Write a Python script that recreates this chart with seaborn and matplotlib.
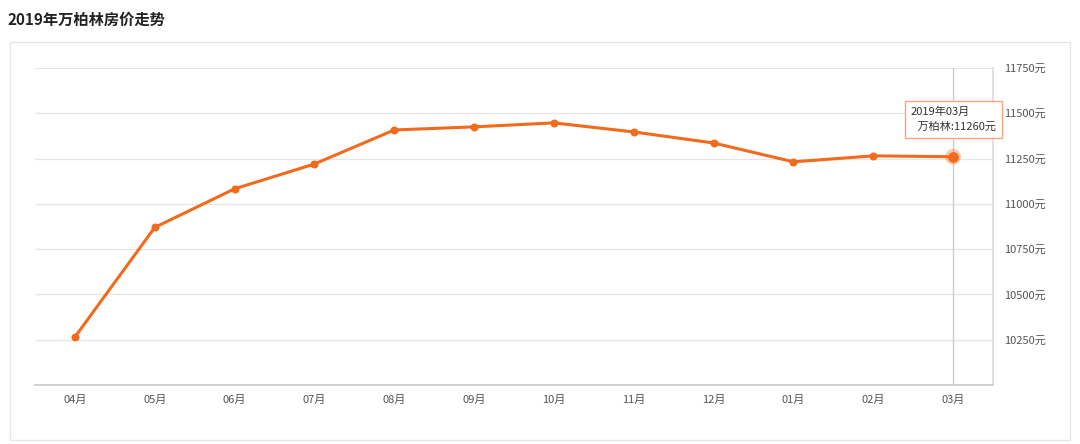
import matplotlib
matplotlib.use("Agg")
import matplotlib.pyplot as plt
import seaborn as sns
import pandas as pd
from matplotlib.patches import Rectangle

sns.set_theme(style="white")
plt.rcParams['font.family'] = ['Noto Sans CJK SC', 'DejaVu Sans']

months = ["04月", "05月", "06月", "07月", "08月", "09月", "10月", "11月", "12月", "01月", "02月", "03月"]
prices = [10265, 10870, 11083, 11220, 11408, 11425, 11447, 11397, 11336, 11232, 11265, 11260]
yticks = [10250, 10500, 10750, 11000, 11250, 11500, 11750]

df = pd.DataFrame({"month": months, "price": prices})
orange = "#f26a1b"

fig = plt.figure(figsize=(10.8, 4.44), dpi=100)
fig.patches.append(Rectangle((10 / 1080, 4 / 444), 1060 / 1080, 398 / 444, transform=fig.transFigure,
                             fill=False, edgecolor="#e6e6e6", lw=1))
fig.text(8 / 1080, 1 - 20 / 444, "2019年万柏林房价走势", fontsize=11, fontweight="bold",
         va="center", ha="left", color="#222222")

ax = fig.add_axes([35 / 1080, 59 / 444, 958 / 1080, 317 / 444])
x = list(range(len(months)))
sns.lineplot(x=x, y=df["price"], ax=ax, color=orange, lw=2.2, marker="o", markersize=5,
             markeredgecolor=orange)
ax.set_xlim(-0.5, len(months) - 0.5)
ax.set_ylim(10000, 11750)
ax.set_xticks(x)
ax.set_xticklabels(months, fontsize=8, color="#555555")
ax.yaxis.tick_right()
ax.set_yticks(yticks)
ax.set_yticklabels([f"{v}元" for v in yticks], fontsize=8, color="#555555")
ax.tick_params(axis="both", length=4, color="#cccccc", pad=3)
ax.tick_params(axis="y", length=0, pad=8)
for v in yticks:
    ax.axhline(v, color="#e6e6e6", lw=0.9, zorder=0)
for s in ["top", "left"]:
    ax.spines[s].set_visible(False)
ax.spines["bottom"].set_color("#cccccc")
ax.spines["right"].set_color("#dddddd")
ax.set_xlabel("")
ax.set_ylabel("")

# highlight last point with tooltip
ax.axvline(x[-1], color="#cccccc", lw=1, zorder=1)
ax.scatter([x[-1]], [prices[-1]], s=130, color=orange, alpha=0.35, zorder=4, edgecolor="none")
ax.scatter([x[-1]], [prices[-1]], s=45, color=orange, zorder=5)
ax.annotate(f"2019年03月\n   万柏林:{prices[-1]}元", xy=(x[-1], prices[-1]), xytext=(0, 27),
            textcoords="offset points", ha="center", va="center", fontsize=8, color="#333333",
            multialignment="left", linespacing=1.6,
            bbox=dict(boxstyle="square,pad=0.5", fc="white", ec="#f5a77a", lw=1), zorder=6)

fig.savefig("out.png", dpi=100)
